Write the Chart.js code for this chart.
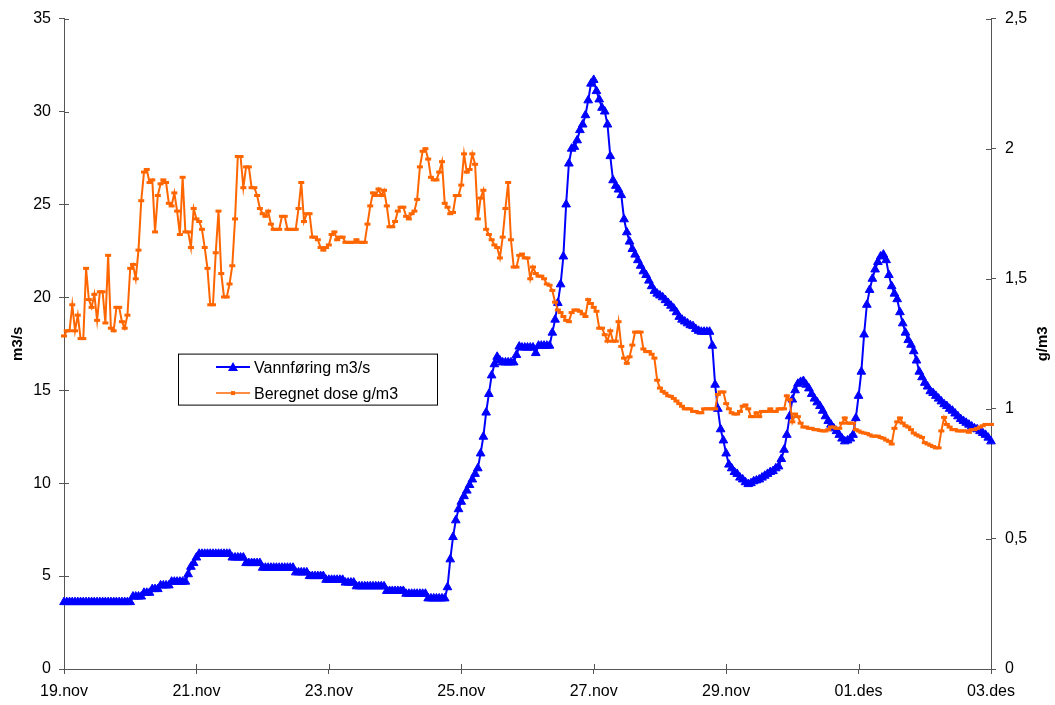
<!DOCTYPE html>
<html>
<head>
<meta charset="utf-8">
<script src="https://cdn.jsdelivr.net/npm/chart.js@4.4.1/dist/chart.umd.min.js"></script>
<style>
  html, body { margin: 0; padding: 0; background: #fff; }
  #chart { display: block; }
</style>
</head>
<body>
<canvas id="chart" width="1055" height="705"></canvas>
<script>
// Hourly readings from 19.nov 00:00 to 03.des 00:00 (one row per day)
const flowM3s = [
  3.6,3.6,3.6,3.6,3.6,3.6,3.6,3.6,3.6,3.6,3.6,3.6,3.6,3.6,3.6,3.6,3.6,3.6,3.6,3.6,3.6,3.6,3.6,3.6,
  3.6,3.9,3.9,3.9,3.9,4.1,4.1,4.1,4.3,4.3,4.3,4.5,4.5,4.5,4.5,4.7,4.7,4.7,4.7,4.7,4.7,5.1,5.5,5.7,
  6.0,6.2,6.2,6.2,6.2,6.2,6.2,6.2,6.2,6.2,6.2,6.2,6.2,6.0,6.0,6.0,6.0,6.0,5.7,5.7,5.7,5.7,5.7,5.7,
  5.45,5.45,5.45,5.45,5.45,5.45,5.45,5.45,5.45,5.45,5.45,5.45,5.2,5.2,5.2,5.2,5.2,5.0,5.0,5.0,5.0,5.0,5.0,4.8,
  4.8,4.8,4.8,4.8,4.8,4.8,4.65,4.65,4.65,4.65,4.45,4.45,4.45,4.45,4.45,4.45,4.45,4.45,4.45,4.45,4.45,4.2,4.2,4.2,
  4.2,4.2,4.2,4.2,4.05,4.05,4.05,4.05,4.05,4.05,4.05,4.05,3.8,3.8,3.8,3.8,3.8,3.8,3.8,4.4,5.9,7.1,8.0,8.6,
  9.0,9.3,9.6,9.9,10.2,10.5,10.8,11.6,12.5,13.8,14.8,15.8,16.4,16.8,16.6,16.5,16.5,16.5,16.5,16.5,16.9,17.35,17.3,17.3,
  17.3,17.3,17.3,17.0,17.4,17.4,17.4,17.4,17.4,18.1,18.8,19.7,20.7,22.2,25.0,27.2,28.0,28.1,28.45,29.0,29.3,29.8,30.6,31.5,
  31.7,31.1,30.65,30.2,30.0,29.3,27.6,26.3,26.0,25.8,25.5,24.2,23.5,23.0,22.6,22.3,22.0,21.7,21.4,21.2,20.9,20.6,20.35,20.2,
  20.1,20.0,19.85,19.7,19.55,19.4,19.2,18.95,18.8,18.7,18.6,18.5,18.45,18.3,18.2,18.15,18.15,18.15,18.15,17.4,15.3,14.0,12.9,12.3,
  11.6,11.0,10.8,10.6,10.5,10.3,10.2,10.05,9.95,10.0,10.1,10.15,10.2,10.3,10.4,10.5,10.6,10.65,10.8,10.9,11.3,11.8,12.6,13.6,
  14.5,15.0,15.35,15.45,15.5,15.3,15.1,14.8,14.55,14.35,14.15,13.9,13.6,13.35,13.15,12.95,12.8,12.6,12.4,12.25,12.3,12.4,12.6,13.5,
  14.7,16.0,18.0,19.6,20.4,21.0,21.5,21.9,22.2,22.3,22.0,21.2,20.6,20.2,19.9,19.2,18.6,18.1,17.7,17.45,17.1,16.6,16.0,15.7,
  15.4,15.2,14.95,14.85,14.7,14.55,14.4,14.25,14.15,14.0,13.9,13.75,13.6,13.45,13.35,13.25,13.15,13.05,12.95,12.9,12.8,12.7,12.6,12.45,
  12.25
];

const doseGm3 = [
  1.28,1.30,1.30,1.40,1.30,1.36,1.27,1.27,1.54,1.42,1.39,1.44,1.34,1.45,1.45,1.33,1.59,1.31,1.30,1.39,1.39,1.335,1.31,1.36,
  1.54,1.555,1.50,1.61,1.80,1.91,1.92,1.87,1.88,1.68,1.82,1.865,1.88,1.87,1.79,1.78,1.83,1.76,1.67,1.89,1.68,1.68,1.62,1.77,
  1.73,1.72,1.69,1.62,1.54,1.40,1.40,1.60,1.76,1.52,1.43,1.43,1.48,1.55,1.73,1.97,1.97,1.85,1.93,1.93,1.85,1.85,1.82,1.77,
  1.75,1.74,1.76,1.71,1.69,1.69,1.69,1.74,1.74,1.69,1.69,1.69,1.69,1.77,1.87,1.72,1.75,1.75,1.66,1.66,1.65,1.62,1.61,1.62,
  1.63,1.67,1.68,1.65,1.66,1.66,1.64,1.64,1.64,1.64,1.65,1.64,1.64,1.64,1.71,1.78,1.83,1.82,1.845,1.82,1.84,1.78,1.70,1.70,
  1.72,1.76,1.775,1.775,1.74,1.73,1.75,1.76,1.805,1.93,1.99,2.00,1.96,1.89,1.88,1.88,1.91,1.95,1.79,1.775,1.75,1.755,1.82,1.82,
  1.86,1.98,1.91,1.92,1.98,1.94,1.73,1.81,1.84,1.69,1.67,1.65,1.63,1.62,1.58,1.66,1.77,1.87,1.65,1.545,1.545,1.59,1.595,1.58,
  1.58,1.50,1.545,1.52,1.51,1.51,1.50,1.48,1.475,1.455,1.41,1.38,1.37,1.355,1.34,1.335,1.37,1.38,1.38,1.375,1.365,1.355,1.42,1.405,
  1.39,1.375,1.31,1.31,1.285,1.26,1.30,1.26,1.26,1.335,1.24,1.195,1.175,1.20,1.245,1.295,1.295,1.295,1.23,1.22,1.22,1.21,1.195,1.11,
  1.08,1.067,1.06,1.05,1.048,1.04,1.03,1.02,1.01,1.00,1.00,1.00,0.99,0.99,0.985,0.985,1.00,1.00,1.00,1.00,1.00,1.055,1.065,1.065,
  1.02,1.00,0.985,0.98,0.98,0.99,1.01,1.015,1.00,0.97,0.97,0.985,0.97,0.99,0.99,0.99,1.00,0.99,0.99,1.00,1.00,1.00,1.05,1.035,
  0.95,0.98,0.97,0.945,0.93,0.93,0.925,0.925,0.92,0.92,0.917,0.915,0.915,0.92,0.93,0.93,0.925,0.925,0.945,0.965,0.945,0.945,0.945,0.92,
  0.915,0.91,0.907,0.905,0.90,0.895,0.895,0.895,0.89,0.887,0.88,0.875,0.865,0.925,0.95,0.965,0.945,0.935,0.93,0.92,0.907,0.90,0.895,0.89,
  0.87,0.865,0.86,0.855,0.85,0.85,0.915,0.967,0.94,0.93,0.92,0.92,0.915,0.915,0.915,0.915,0.91,0.92,0.92,0.925,0.93,0.935,0.94,0.94,
  0.94
];

const dateLabels = ['19.nov', '21.nov', '23.nov', '25.nov', '27.nov', '29.nov', '01.des', '03.des'];
const doseTickLabels = ['0', '0,5', '1', '1,5', '2', '2,5'];
const seriesNames = ['Vannføring m3/s', 'Beregnet dose g/m3'];
const axisTitles = ['m3/s', 'g/m3'];

const BLUE = '#0000FF';
const ORANGE = '#FF6600';
const AXIS = '#555555';
const FONT = '"Liberation Sans", Arial, Helvetica, sans-serif';

const toPoints = arr => arr.map((v, i) => ({ x: i, y: v }));

// Short tick marks on the inner side of each axis line (the library draws the outer part)
const innerTicks = {
  id: 'innerTicks',
  afterDraw(chart) {
    const ctx = chart.ctx;
    const { x, y, y2 } = chart.scales;
    ctx.save();
    ctx.strokeStyle = AXIS;
    ctx.lineWidth = 1;
    ctx.beginPath();
    x.ticks.forEach(t => {
      const px = Math.round(x.getPixelForValue(t.value)) + 0.5;
      ctx.moveTo(px, x.top); ctx.lineTo(px, x.top - 5);
    });
    y.ticks.forEach(t => {
      const py = Math.round(y.getPixelForValue(t.value)) + 0.5;
      ctx.moveTo(y.right, py); ctx.lineTo(y.right + 5, py);
    });
    y2.ticks.forEach(t => {
      const py = Math.round(y2.getPixelForValue(t.value)) + 0.5;
      ctx.moveTo(y2.left, py); ctx.lineTo(y2.left - 5, py);
    });
    ctx.stroke();
    ctx.restore();
  }
};

// Rotated bold titles beside both value axes, reading bottom to top
const sideTitles = {
  id: 'sideTitles',
  afterDraw(chart) {
    const ctx = chart.ctx;
    const area = chart.chartArea;
    const midY = (area.top + area.bottom) / 2;
    ctx.save();
    ctx.fillStyle = '#000';
    ctx.font = 'bold 15px ' + FONT;
    ctx.textAlign = 'center';
    ctx.textBaseline = 'middle';
    [[18, axisTitles[0]], [1043, axisTitles[1]]].forEach(([cx, text]) => {
      ctx.save();
      ctx.translate(cx, midY);
      ctx.rotate(-Math.PI / 2);
      ctx.fillText(text, 0, 0);
      ctx.restore();
    });
    ctx.restore();
  }
};

// Boxed legend placed inside the plot area
const boxLegend = {
  id: 'boxLegend',
  afterDraw(chart) {
    const ctx = chart.ctx;
    const area = chart.chartArea;
    const bx = area.left + 114.5, by = area.top + 335.5, bw = 259, bh = 51;
    ctx.save();
    ctx.fillStyle = '#fff';
    ctx.fillRect(bx, by, bw, bh);
    ctx.strokeStyle = '#000';
    ctx.lineWidth = 1;
    ctx.strokeRect(bx, by, bw, bh);

    const rows = [by + 13, by + 39];
    const sx0 = bx + 37.5, sx1 = bx + 71.5, mx = (sx0 + sx1) / 2;
    // flow entry
    ctx.strokeStyle = BLUE;
    ctx.lineWidth = 2;
    ctx.beginPath(); ctx.moveTo(sx0, rows[0]); ctx.lineTo(sx1, rows[0]); ctx.stroke();
    ctx.fillStyle = BLUE;
    ctx.beginPath();
    ctx.moveTo(mx, rows[0] - 5);
    ctx.lineTo(mx + 5, rows[0] + 4);
    ctx.lineTo(mx - 5, rows[0] + 4);
    ctx.closePath(); ctx.fill();
    // dose entry
    ctx.strokeStyle = ORANGE;
    ctx.lineWidth = 1.5;
    ctx.beginPath(); ctx.moveTo(sx0, rows[1]); ctx.lineTo(sx1, rows[1]); ctx.stroke();
    ctx.fillStyle = ORANGE;
    ctx.fillRect(mx - 2, rows[1] - 2, 4, 4);

    ctx.fillStyle = '#000';
    ctx.font = '16px ' + FONT;
    ctx.textAlign = 'left';
    ctx.textBaseline = 'middle';
    ctx.fillText(seriesNames[0], bx + 75.5, rows[0] + 1);
    ctx.fillText(seriesNames[1], bx + 75.5, rows[1] + 1);
    ctx.restore();
  }
};

new Chart(document.getElementById('chart'), {
  type: 'line',
  data: {
    datasets: [
      {
        label: seriesNames[0],
        data: toPoints(flowM3s),
        yAxisID: 'y',
        borderColor: BLUE,
        backgroundColor: BLUE,
        borderWidth: 2,
        pointStyle: 'triangle',
        pointRadius: 5,
        pointBorderWidth: 1,
        pointBackgroundColor: BLUE,
        pointBorderColor: BLUE,
        tension: 0,
        clip: false,
        order: 1
      },
      {
        label: seriesNames[1],
        data: toPoints(doseGm3),
        yAxisID: 'y2',
        borderColor: ORANGE,
        backgroundColor: ORANGE,
        borderWidth: 2,
        pointStyle: 'line',
        pointRadius: 3,
        pointBorderWidth: 3,
        pointBorderColor: ORANGE,
        tension: 0,
        clip: false,
        order: 0
      }
    ]
  },
  options: {
    responsive: false,
    animation: false,
    events: [],
    layout: { padding: { top: 16, left: 0, right: 0, bottom: 0 } },
    plugins: { legend: { display: false }, tooltip: { enabled: false } },
    scales: {
      x: {
        type: 'linear',
        min: 0,
        max: 336,
        afterFit: s => { s.height = 36; },
        afterBuildTicks: s => { s.ticks = dateLabels.map((_, i) => ({ value: i * 48 })); },
        grid: { drawOnChartArea: false, drawTicks: true, tickLength: 5, color: AXIS },
        border: { display: true, color: AXIS, width: 1 },
        ticks: {
          autoSkip: false,
          maxRotation: 0,
          padding: 8,
          color: '#000',
          font: { family: FONT, size: 16 },
          callback: v => dateLabels[Math.round(v / 48)]
        }
      },
      y: {
        type: 'linear',
        position: 'left',
        min: 0,
        max: 35,
        afterFit: s => { s.width = 64; },
        grid: { drawOnChartArea: false, drawTicks: true, tickLength: 5, color: AXIS },
        border: { display: true, color: AXIS, width: 1 },
        ticks: {
          stepSize: 5,
          padding: 8,
          color: '#000',
          font: { family: FONT, size: 16 }
        }
      },
      y2: {
        type: 'linear',
        position: 'right',
        min: 0,
        max: 2.5,
        afterFit: s => { s.width = 64; },
        grid: { drawOnChartArea: false, drawTicks: true, tickLength: 5, color: AXIS },
        border: { display: true, color: AXIS, width: 1 },
        ticks: {
          stepSize: 0.5,
          padding: 9,
          color: '#000',
          font: { family: FONT, size: 16 },
          callback: v => doseTickLabels[Math.round(v * 2)]
        }
      }
    }
  },
  plugins: [innerTicks, sideTitles, boxLegend]
});
</script>
</body>
</html>
